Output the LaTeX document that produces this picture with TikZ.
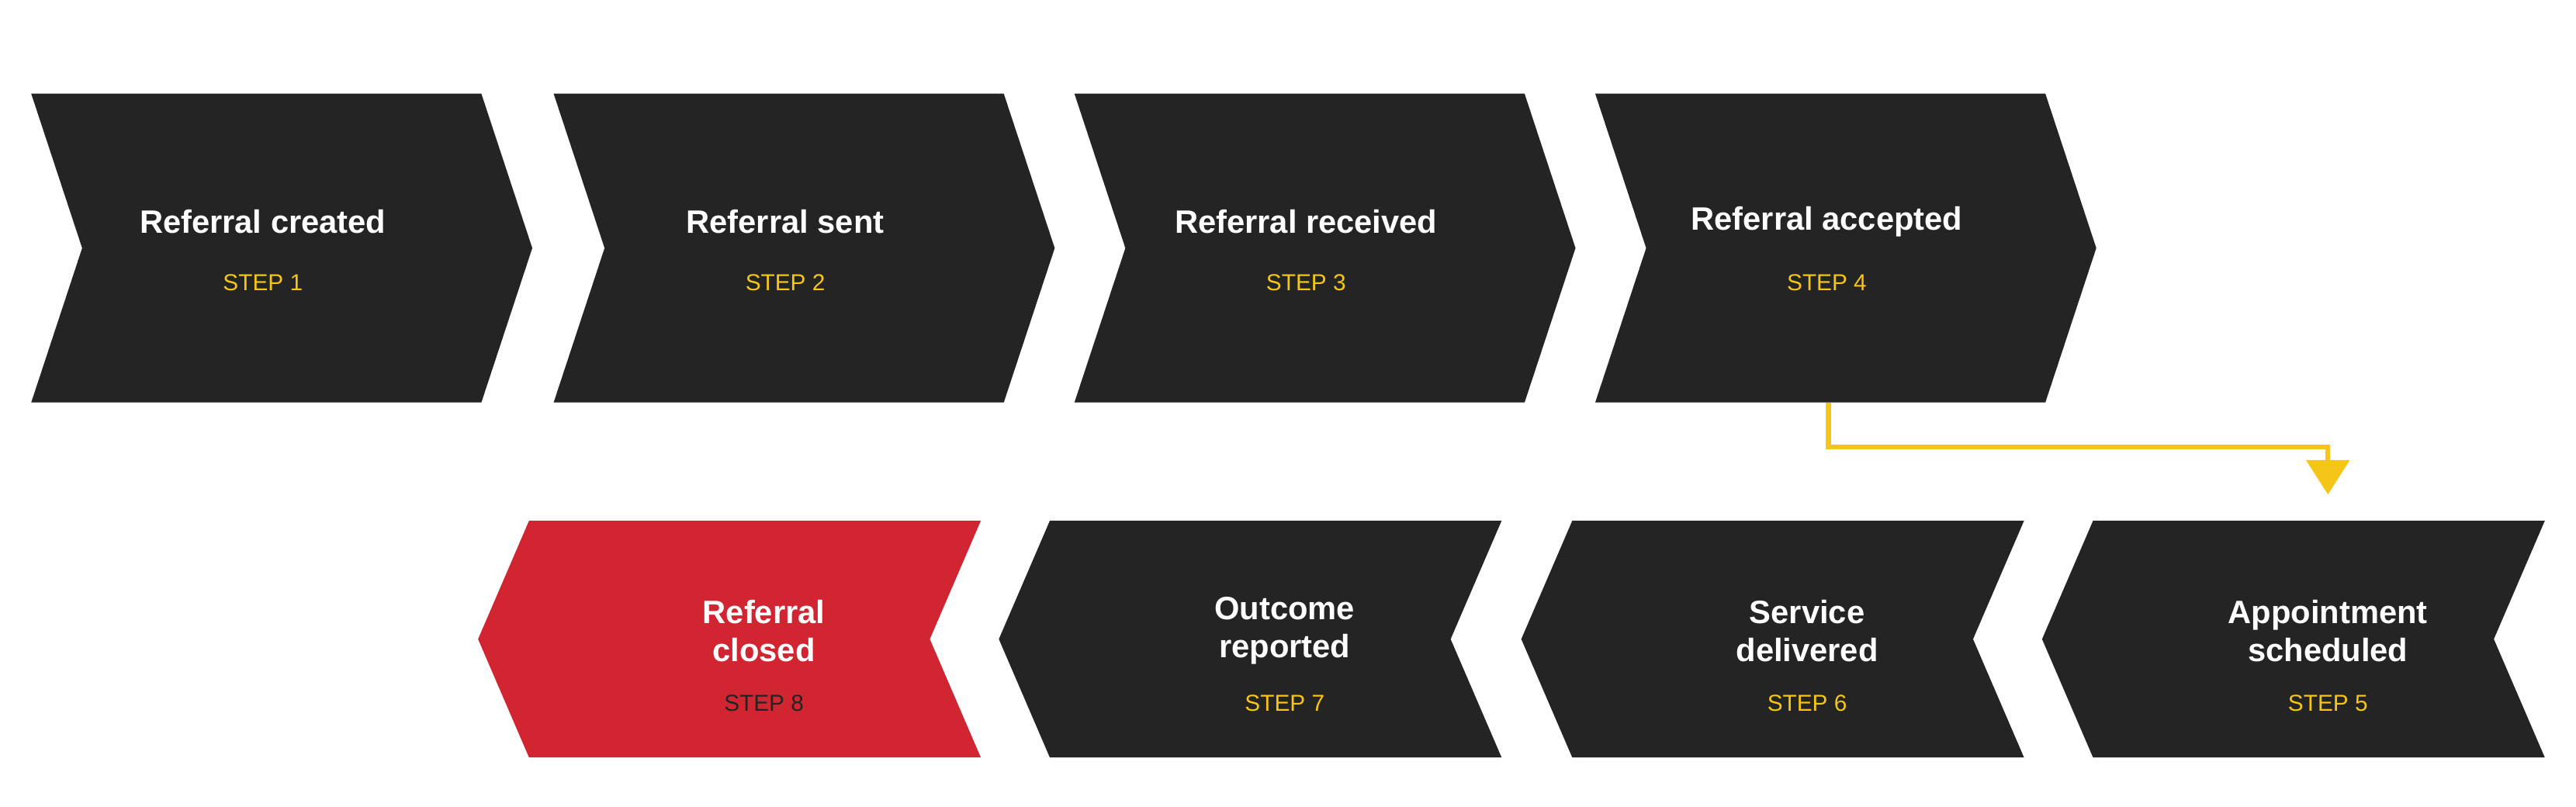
\documentclass[tikz,border=0pt]{standalone}
\usepackage{fontspec}
\setmainfont{Liberation Sans}
\usetikzlibrary{positioning}
\usetikzlibrary{calc}
\usetikzlibrary{arrows.meta}
\definecolor{darkbox}{HTML}{242424}
\definecolor{redbox}{HTML}{D12631}
\definecolor{stepyellow}{HTML}{F5C518}
\begin{document}
\begin{tikzpicture}[x=0.01cm,y=-0.01cm]
			\tikzset{title/.style = {text=white,font=\fontsize{5.6}{6.6}\selectfont\bfseries,align=center},
				steplabel/.style = {text=stepyellow,font=\fontsize{4}{5}\selectfont}}
			\useasboundingbox (0,0) rectangle (1568,491);
			
			% top row, pointing right
			\foreach \x/\t/\n in {19/Referral created/1,337/Referral sent/2,654/Referral received/3,971/Referral accepted/4}{
				\fill[darkbox] (\x,57) -- ++(274,0) -- ++(31,94) -- ++(-31,94) -- ++(-274,0) -- ++(31,-94) -- cycle;
				\node[title] (t\n) at (\x+141,135) {\t};
				\node[steplabel] (s\n) at (\x+141,172) {STEP \n};
			}
			
			% bottom row, pointing left
			\foreach \x/\t/\n/\c in {1243/Appointment\\scheduled/5/stepyellow,926/Service\\delivered/6/stepyellow,608/Outcome\\reported/7/stepyellow,291/Referral\\closed/8/darkbox}{
				\ifnum\n=8 \def\bc{redbox}\else\def\bc{darkbox}\fi
				\fill[\bc] (\x,389) -- ++(31,-72) -- ++(275,0) -- ++(-31,72) -- ++(31,72) -- ++(-275,0) -- cycle;
				\node[title] (t\n) at (\x+174,384) {\t};
				\node[steplabel,text=\c] (s\n) at (\x+174,428) {STEP \n};
			}
			
			\coordinate (out4) at (1113,245);
			\coordinate (in5) at (1417,301);
			\draw[stepyellow,line width=0.03cm,-{Triangle[width=0.26cm,length=0.21cm]}] (out4) -- ++(0,27) -| (in5);
			
			\end{tikzpicture}
\end{document}
